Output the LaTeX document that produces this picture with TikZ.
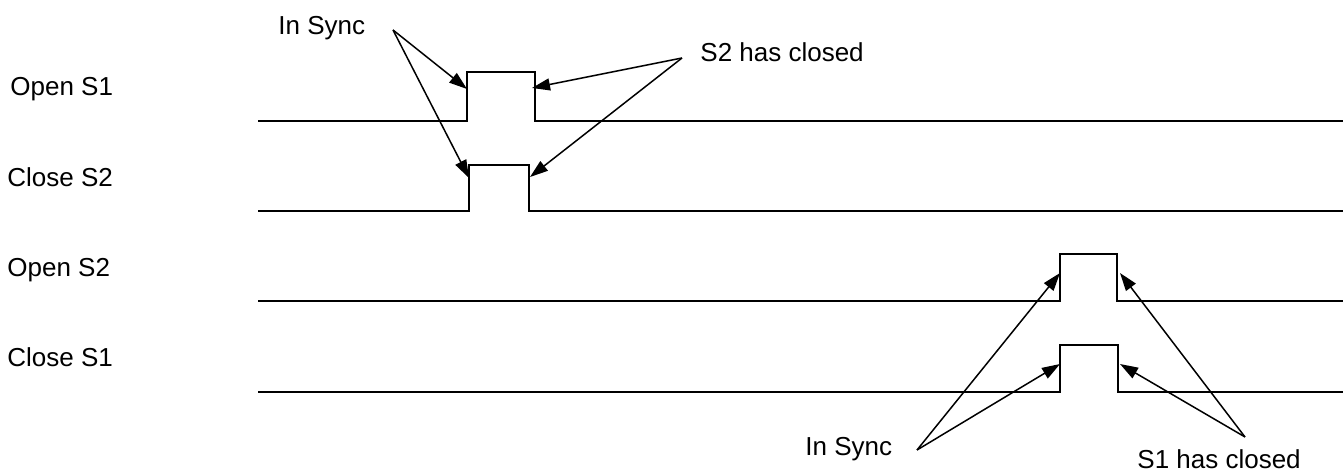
\documentclass[tikz,border=0pt]{standalone}
\usepackage{fontspec}
\setmainfont{Liberation Sans}
\usetikzlibrary{arrows.meta}
\begin{document}
\begin{tikzpicture}[x=0.5pt,y=-0.5pt,
  lbl/.style={anchor=base west,inner sep=0pt,font=\fontsize{13}{15}\selectfont},
  sig/.style={line width=1pt,line join=miter},
  ptr/.style={line width=0.75pt,-{Triangle[length=9pt,width=6pt]}}]
\useasboundingbox (0,0) rectangle (1343,474);
% signal labels
\node[lbl] (o1) at (10,96) {Open S1};
\node[lbl] (c2) at (7,187) {Close S2};
\node[lbl] (o2) at (7,277) {Open S2};
\node[lbl] (c1) at (7,367) {Close S1};
% signals
\draw[sig] (258,121) -- (467,121) -- (467,72) -- (535,72) -- (535,121) -- (1343,121);
\draw[sig] (258,211) -- (469,211) -- (469,165) -- (529,165) -- (529,211) -- (1343,211);
\draw[sig] (258,301) -- (1060,301) -- (1060,254) -- (1117,254) -- (1117,301) -- (1343,301);
\draw[sig] (258,392) -- (1060,392) -- (1060,345) -- (1118,345) -- (1118,392) -- (1343,392);
% annotation labels
\node[lbl] (sync1) at (278,35) {In Sync};
\node[lbl] (s2c) at (700,62) {S2 has closed};
\node[lbl] (sync2) at (805,456) {In Sync};
\node[lbl] (s1c) at (1137,469) {S1 has closed};
% arrow ends
\coordinate (a1) at (393,30);
\coordinate (a2) at (682,58);
\coordinate (a3) at (917,450);
\coordinate (a4) at (1245,437);
\coordinate (t1) at (467,89);
\coordinate (t2) at (469,178);
\coordinate (t3) at (532,88);
\coordinate (t4) at (530,177);
\coordinate (t5) at (1060,273);
\coordinate (t6) at (1060,364);
\coordinate (t7) at (1120,273);
\coordinate (t8) at (1120,364);
\draw[ptr] (a1) -- (t1);
\draw[ptr] (a1) -- (t2);
\draw[ptr] (a2) -- (t3);
\draw[ptr] (a2) -- (t4);
\draw[ptr] (a3) -- (t5);
\draw[ptr] (a3) -- (t6);
\draw[ptr] (a4) -- (t7);
\draw[ptr] (a4) -- (t8);
\end{tikzpicture}
\end{document}
